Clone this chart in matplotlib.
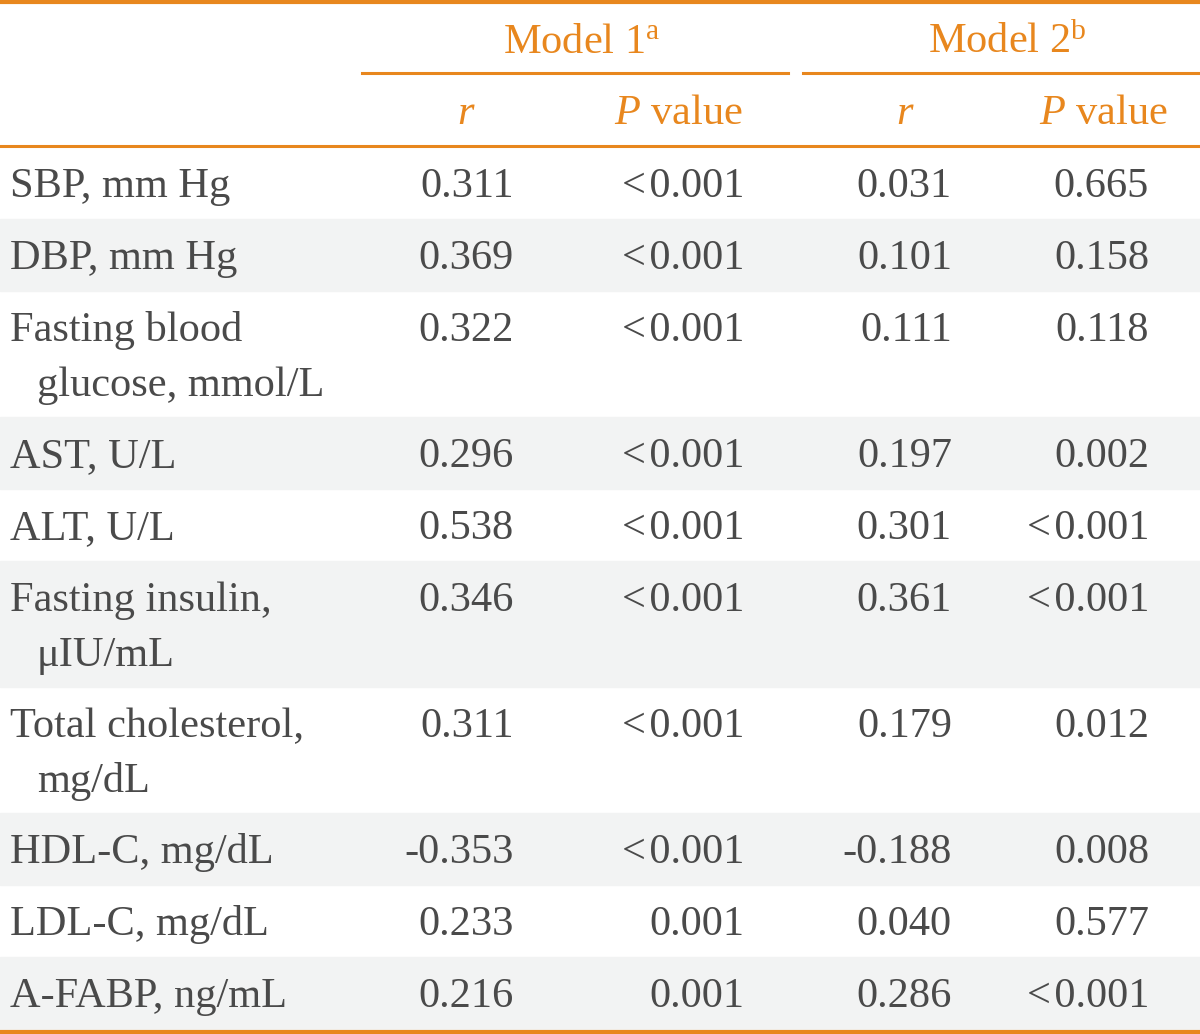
import matplotlib.pyplot as plt
from matplotlib.patches import Rectangle

plt.rcParams['font.family'] = ['Liberation Serif', 'DejaVu Serif']
plt.rcParams['mathtext.fontset'] = 'custom'
plt.rcParams['mathtext.rm'] = 'Liberation Serif'
plt.rcParams['mathtext.it'] = 'Liberation Serif:italic'

# Table content
labels = [["SBP, mm Hg"], ["DBP, mm Hg"], ["Fasting blood", "glucose, mmol/L"],
          ["AST, U/L"], ["ALT, U/L"], ["Fasting insulin,", "\u03bcIU/mL"],
          ["Total cholesterol,", "mg/dL"], ["HDL-C, mg/dL"], ["LDL-C, mg/dL"],
          ["A-FABP, ng/mL"]]
r_model1 = ["0.311", "0.369", "0.322", "0.296", "0.538", "0.346", "0.311", "-0.353", "0.233", "0.216"]
p_model1 = ["<0.001", "<0.001", "<0.001", "<0.001", "<0.001", "<0.001", "<0.001", "<0.001", "0.001", "0.001"]
r_model2 = ["0.031", "0.101", "0.111", "0.197", "0.301", "0.361", "0.179", "-0.188", "0.040", "0.286"]
p_model2 = ["0.665", "0.158", "0.118", "0.002", "<0.001", "<0.001", "0.012", "0.008", "0.577", "<0.001"]
group_headers = ["Model 1$^{\\rm a}$", "Model 2$^{\\rm b}$"]

orange = '#E8871E'
txt = '#4a4a4a'
shade = '#F2F3F3'
fs = 30.5


def fmt(v):
    # small gap after the "<" sign, like the typeset original
    return v.replace("<", "<\u200a")


fig = plt.figure(figsize=(12, 10.34), dpi=100)
ax = fig.add_axes([0, 0, 1, 1])
ax.set_xlim(0, 1200)
ax.set_ylim(1034, 0)
ax.axis('off')

# header
ax.axhline(2, color=orange, lw=3)
ax.text(582, 53, group_headers[0], color=orange, fontsize=fs, ha='center', va='baseline')
ax.text(1007, 53, group_headers[1], color=orange, fontsize=fs, ha='center', va='baseline')
ax.plot([362, 788], [73, 73], color=orange, lw=2.2)
ax.plot([803, 1200], [73, 73], color=orange, lw=2.2)
ax.text(466, 124, "$\\it{r}$", color=orange, fontsize=fs, ha='center', va='baseline')
ax.text(679, 124, "$\\it{P}$ value", color=orange, fontsize=fs, ha='center', va='baseline')
ax.text(905, 124, "$\\it{r}$", color=orange, fontsize=fs, ha='center', va='baseline')
ax.text(1104, 124, "$\\it{P}$ value", color=orange, fontsize=fs, ha='center', va='baseline')
ax.axhline(146, color=orange, lw=2.2)

# body rows
y = 147
line_h = 55
for i, lab in enumerate(labels):
    h = 72 + 54 * (len(lab) - 1)
    if i % 2 == 1:
        ax.add_patch(Rectangle((0, y), 1200, h, color=shade, zorder=0))
    yb = y + 50
    for j, part in enumerate(lab):
        ax.text(10 if j == 0 else 37, yb + j * line_h, part, color=txt, fontsize=fs,
                ha='left', va='baseline')
    ax.text(514, yb, r_model1[i], color=txt, fontsize=fs, ha='right', va='baseline')
    ax.text(744, yb, fmt(p_model1[i]), color=txt, fontsize=fs, ha='right', va='baseline')
    ax.text(952, yb, r_model2[i], color=txt, fontsize=fs, ha='right', va='baseline')
    ax.text(1149, yb, fmt(p_model2[i]), color=txt, fontsize=fs, ha='right', va='baseline')
    y += h

ax.axhline(1032, color=orange, lw=3)

fig.savefig('out.png', dpi=100)
